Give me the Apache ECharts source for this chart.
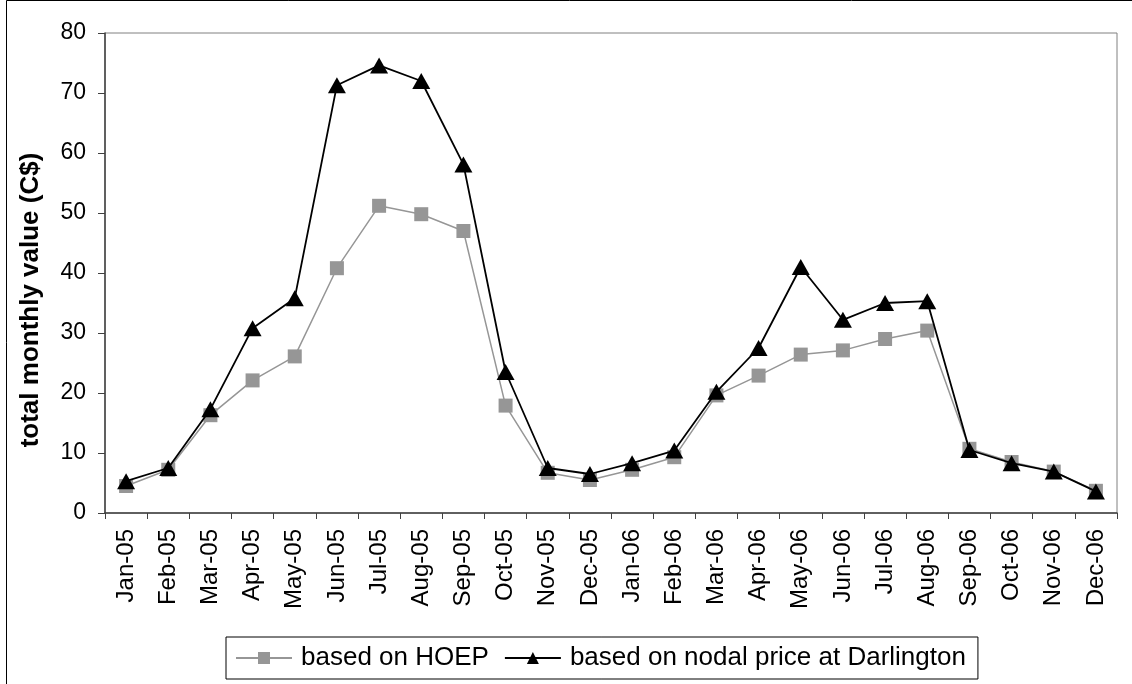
<!DOCTYPE html>
<html>
<head>
<meta charset="utf-8">
<script src="https://cdn.jsdelivr.net/npm/echarts@6/dist/echarts.min.js"></script>
<style>
html,body{margin:0;padding:0;background:#fff;}
#chart{width:1132px;height:684px;}
</style>
</head>
<body>
<div id="chart"></div>
<script>
const categories = ["Jan-05","Feb-05","Mar-05","Apr-05","May-05","Jun-05","Jul-05","Aug-05","Sep-05","Oct-05","Nov-05","Dec-05",
  "Jan-06","Feb-06","Mar-06","Apr-06","May-06","Jun-06","Jul-06","Aug-06","Sep-06","Oct-06","Nov-06","Dec-06"];
const hoep = [4.5,7.2,16.3,22.1,26.1,40.8,51.2,49.8,47.0,17.9,6.7,5.5,7.2,9.3,19.6,22.9,26.4,27.1,29.0,30.4,10.7,8.5,6.9,3.7];
const nodal = [5.3,7.5,17.3,30.8,35.8,71.3,74.6,72.0,58.1,23.5,7.5,6.5,8.3,10.4,20.2,27.5,41.0,32.2,35.0,35.3,10.5,8.3,6.9,3.6];
const seriesNames = ["based on HOEP","based on nodal price at Darlington"];
const yTitle = "total monthly value (C$)";

const chart = echarts.init(document.getElementById('chart'), null, {renderer:'canvas'});
const font = 'Arial, "Liberation Sans", sans-serif';
chart.setOption({
  animation:false,
  backgroundColor:'#fff',
  graphic:[{type:'rect',shape:{x:6.5,y:0.5,width:1200,height:800},style:{fill:'none',stroke:'#000',lineWidth:1},silent:true}],
  grid:{left:105,top:33,right:15,bottom:171,show:true,borderColor:'#808080',borderWidth:1},
  legend:{
    data:seriesNames,
    left:226, top:637,
    itemWidth:56, itemHeight:15, itemGap:15,
    padding:[8,12,8,9],
    borderColor:'#000', borderWidth:1, borderRadius:0,
    backgroundColor:'#fff',
    textStyle:{fontFamily:font,fontSize:26,color:'#000',padding:[0,0,0,4]}
  },
  xAxis:{
    type:'category', data:categories, boundaryGap:true,
    axisLine:{lineStyle:{color:'#404040',width:1.5}},
    axisTick:{show:true,alignWithLabel:false,length:6,lineStyle:{color:'#404040'}},
    axisLabel:{rotate:90,interval:0,fontFamily:font,fontSize:24,color:'#000',margin:16}
  },
  yAxis:{
    type:'value', min:0, max:80, interval:10,
    name:yTitle, nameLocation:'middle', nameGap:61,
    nameTextStyle:{fontFamily:font,fontSize:26,fontWeight:'bold',color:'#000',padding:[0,54,0,0]},
    axisLine:{show:true,lineStyle:{color:'#404040',width:1.5}},
    axisTick:{show:true,length:7,lineStyle:{color:'#404040'}},
    splitLine:{show:false},
    axisLabel:{fontFamily:font,fontSize:23,color:'#000',margin:19}
  },
  series:[
    {name:seriesNames[0],type:'line',data:hoep,symbol:'rect',symbolSize:14,
     lineStyle:{color:'#969696',width:1.5},itemStyle:{color:'#969696'},z:2},
    {name:seriesNames[1],type:'line',data:nodal,symbol:'triangle',symbolSize:[18,16],
     lineStyle:{color:'#000',width:1.8},itemStyle:{color:'#000'},z:3}
  ]
});
</script>
</body>
</html>
